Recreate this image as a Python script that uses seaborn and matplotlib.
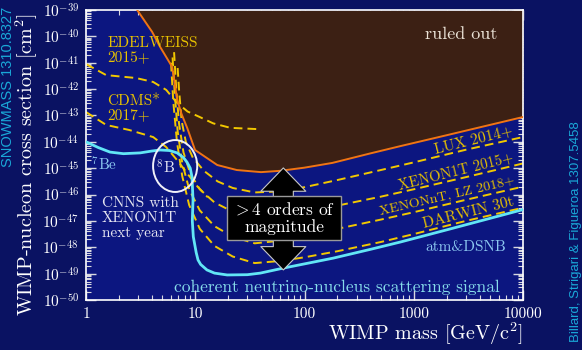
import numpy as np
import pandas as pd
import matplotlib.pyplot as plt
import seaborn as sns
from matplotlib.patches import Ellipse
from matplotlib.ticker import LogLocator, NullFormatter

sns.set_theme(style='ticks')
plt.rcParams['font.family'] = ['cmr10', 'DejaVu Serif']
plt.rcParams['mathtext.fontset'] = 'cm'
plt.rcParams['axes.unicode_minus'] = False

# curves: WIMP mass [GeV] and log10(cross section [cm^2])
lux_now_mass = [2.94, 4.03, 4.77, 6.15, 6.84, 7.5, 8.45, 9.95, 15.9, 24, 40, 60, 100, 180, 400, 760, 2000, 10000]
lux_now_log = [-39.0, -39.83, -40.4, -41.16, -42.41, -42.95, -43.48, -44.31, -44.88, -45.07, -45.15, -45.1,
               -44.98, -44.8, -44.44, -44.16, -43.75, -43.06]

floor_mass = [1.0, 1.3, 1.66, 2.2, 3.13, 4.0, 4.77, 5.8, 6.83, 7.8, 8.4, 9.0, 9.34, 9.54, 9.4, 9.6, 10.2, 10.6,
              11.2, 12.8, 15, 19.6, 30, 39.4, 64, 100, 184, 400, 756, 2000, 10000]
floor_log = [-44.0, -44.22, -44.39, -44.45, -44.42, -44.35, -44.31, -44.33, -44.42, -44.6, -44.77, -45.0,
             -45.34, -46.21, -47.0, -47.6, -48.2, -48.48, -48.65, -48.86, -48.98, -49.05, -49.04, -48.98,
             -48.79, -48.63, -48.41, -48.08, -47.8, -47.34, -46.57]

edelweiss_mass = [1.0, 1.53, 2.87, 4.12, 5.42, 6.7, 8.5, 11, 14.6, 21, 38]
edelweiss_log = [-41.05, -41.47, -41.58, -41.73, -42.03, -42.49, -42.85, -43.06, -43.3, -43.47, -43.52]

cdms_mass = [1.0, 1.53, 2.48, 4.12, 5.42, 7.0, 8.45, 10.5, 13.0]
cdms_log = [-42.87, -43.36, -43.55, -43.82, -44.2, -44.75, -45.2, -45.7, -46.1]

lux14_mass = [6.9, 7.1, 7.5, 8.2, 9.5, 12, 16, 22, 35, 60, 100, 200, 500, 1000, 3000, 10000]
lux14_log = [-41.2, -42.0, -43.2, -44.0, -44.6, -45.1, -45.5, -45.75, -45.92, -45.88, -45.72, -45.45, -45.07,
             -44.78, -44.3, -43.82]

x1t_mass = [6.4, 6.7, 7.1, 7.8, 9, 11, 15, 22, 35, 60, 100, 200, 500, 1000, 3000, 10000]
x1t_log = [-40.6, -42.0, -43.3, -44.4, -45.2, -45.8, -46.3, -46.65, -46.88, -46.82, -46.65, -46.42, -46.08,
           -45.8, -45.34, -44.82]

xnt_mass = [6.2, 6.5, 6.9, 7.6, 8.8, 11, 15, 22, 35, 60, 100, 200, 500, 1000, 3000, 10000]
xnt_log = [-40.8, -42.2, -43.6, -44.8, -45.8, -46.6, -47.2, -47.6, -47.85, -47.75, -47.55, -47.3, -46.95,
           -46.67, -46.2, -45.7]

darwin_mass = [6.0, 6.3, 6.8, 7.6, 8.8, 11, 15, 22, 35, 60, 100, 200, 500, 1000, 3000, 10000]
darwin_log = [-41.0, -42.5, -44.0, -45.3, -46.4, -47.3, -47.95, -48.35, -48.6, -48.52, -48.38, -48.15,
              -47.8, -47.5, -47.0, -46.5]

x_ticks = [1, 10, 100, 1000, 10000]
x_ticklabels = ['1', '10', '100', '1000', '10000']
y_exponents = list(range(-50, -38))

BG = '#0a1262'
AX_BG = '#0c1680'
GOLD = '#f2c800'
GOLD_TXT = '#e8c200'
CYAN = '#62e6f6'
ORANGE = '#f07414'
BROWN = '#3c2014'
SIDE = '#1aa8d8'


def curve(mass, logs):
    return pd.DataFrame({'mass': mass, 'sigma': 10.0 ** np.array(logs)})


def line_label(mass, logs, at, text, size, rot):
    # label sitting just above its dashed line
    y = np.interp(np.log10(at), np.log10(mass), logs) + 0.3
    ax.text(at, 10 ** y, text, color=GOLD_TXT, fontsize=size, ha='center', va='center', rotation=rot)


fig = plt.figure(figsize=(5.82, 3.5), dpi=100, facecolor=BG)
ax = fig.add_axes([86 / 582, 50 / 350, 437 / 582, 290 / 350])
ax.set_facecolor(AX_BG)
ax.set_xscale('log')
ax.set_yscale('log')
ax.set_xlim(1, 10000)
ax.set_ylim(1e-50, 1e-39)

# ruled out region above the current limit
lux_now = curve(lux_now_mass, lux_now_log)
ax.fill_between(lux_now['mass'], lux_now['sigma'], 1e-39, color=BROWN, lw=0, zorder=1)

dash = (0, (4.5, 2.6))
for m, l in [(edelweiss_mass, edelweiss_log), (cdms_mass, cdms_log), (lux14_mass, lux14_log),
             (x1t_mass, x1t_log), (xnt_mass, xnt_log), (darwin_mass, darwin_log)]:
    sns.lineplot(data=curve(m, l), x='mass', y='sigma', ax=ax, sort=False, estimator=None,
                 color=GOLD, lw=1.4, linestyle=dash, zorder=2)

sns.lineplot(data=lux_now, x='mass', y='sigma', ax=ax, sort=False, estimator=None,
             color=ORANGE, lw=1.4, zorder=3)
sns.lineplot(data=curve(floor_mass, floor_log), x='mass', y='sigma', ax=ax, sort=False,
             estimator=None, color=CYAN, lw=2.0, zorder=4)

# axes styling
for s in ax.spines.values():
    s.set_color('white')
    s.set_linewidth(1.2)
ax.set_xticks(x_ticks)
ax.set_xticklabels(x_ticklabels)
ax.set_yticks([10.0 ** e for e in y_exponents])
ax.set_yticklabels([f'$10^{{{e}}}$' for e in y_exponents])
ax.yaxis.set_minor_locator(LogLocator(base=10, subs=np.arange(2, 10), numticks=100))
ax.xaxis.set_minor_locator(LogLocator(base=10, subs=np.arange(2, 10), numticks=100))
ax.yaxis.set_minor_formatter(NullFormatter())
ax.xaxis.set_minor_formatter(NullFormatter())
ax.tick_params(which='both', direction='in', top=True, right=True, colors='#d8d8e0')
ax.tick_params(which='major', length=7, width=1)
ax.tick_params(which='minor', length=3.5, width=0.8)
ax.tick_params(axis='y', labelsize=11, labelcolor='white', pad=5)
ax.tick_params(axis='x', labelsize=11, labelcolor='white', pad=5)
ax.set_xlabel('')
ax.set_ylabel('')

# labels in the plot
ax.text(1.56, 10 ** -39.99, 'EDELWEISS\n2015+', color=GOLD_TXT, fontsize=11, va='top', ha='left',
        linespacing=1.05)
ax.text(1.56, 10 ** -42.2, 'CDMS*\n2017+', color=GOLD_TXT, fontsize=11, va='top', ha='left',
        linespacing=1.05)
line_label(lux14_mass, lux14_log, 3500, 'LUX 2014+', 11, 14)
line_label(x1t_mass, x1t_log, 2438, 'XENON1T 2015+', 10.5, 14)
line_label(xnt_mass, xnt_log, 2014, 'XENONnT, LZ 2018+', 10, 13)
line_label(darwin_mass, darwin_log, 3140, 'DARWIN 30t', 11, 14)
ax.text(2705, 10 ** -39.91, 'ruled out', color='#ece4d8', fontsize=13, ha='center', va='center')
ax.text(3008, 10 ** -47.99, 'atm&DSNB', color='#8cc8f0', fontsize=11, ha='center', va='center')
ax.text(198, 10 ** -49.51, 'coherent neutrino-nucleus scattering signal', color='#86dcea', fontsize=12.5,
        ha='center', va='center')
ax.text(1.46, 10 ** -44.88, '$^7$Be', color='#8cc8f0', fontsize=11, ha='center', va='center')
ax.text(5.29, 10 ** -44.96, '$^8$B', color='#e8e8f4', fontsize=11, ha='center', va='center')
ax.text(1.40, 10 ** -46.05, 'CNNS with\nXENON1T\nnext year', color='#e4e4f0', fontsize=11, ha='left',
        va='top', linespacing=1.15)

ax.add_patch(Ellipse((0.204, 0.462), 0.101, 0.179, transform=ax.transAxes, fill=False,
                     ec='#f0f0f8', lw=1.4, zorder=5))

# >4 orders of magnitude arrow
arrow_props = dict(arrowstyle='simple,head_length=1.4,head_width=2.7,tail_width=1.2',
                   fc='black', ec='#c8c8c8', lw=0.8, shrinkA=0, shrinkB=0)
for tip in (-44.99, -48.86):
    ax.annotate('', xy=(64, 10 ** tip), xytext=(64, 10 ** -46.89), arrowprops=arrow_props,
                zorder=6, annotation_clip=False)
ax.text(64.9, 10 ** -46.89, '$>$4 orders of\nmagnitude', color='white', fontsize=12.5, ha='center',
        va='center', linespacing=1.12, zorder=7,
        bbox=dict(boxstyle='square,pad=0.3', fc='black', ec='#9a9a9a', lw=1))

# axis titles and side references
fig.text(523 / 582, 1 - 334 / 350, 'WIMP mass [GeV/c$^2$]', color='white', fontsize=14.5, ha='right',
         va='center')
fig.text(27 / 582, 1 - 165 / 350, 'WIMP-nucleon cross section [cm$^2$]', color='white', fontsize=14.5,
         ha='center', va='center', rotation=90)
fig.text(8 / 582, 1 - 7 / 350, 'SNOWMASS 1310.8327', color=SIDE, fontsize=10.5, ha='center', va='top',
         rotation=90, family='Liberation Sans')
fig.text(576 / 582, 1 - 342 / 350, 'Billard, Strigari & Figueroa 1307.5458', color=SIDE, fontsize=9.5,
         ha='center', va='bottom', rotation=90, family='Liberation Sans')

fig.savefig('out.png', dpi=100, facecolor=fig.get_facecolor())
